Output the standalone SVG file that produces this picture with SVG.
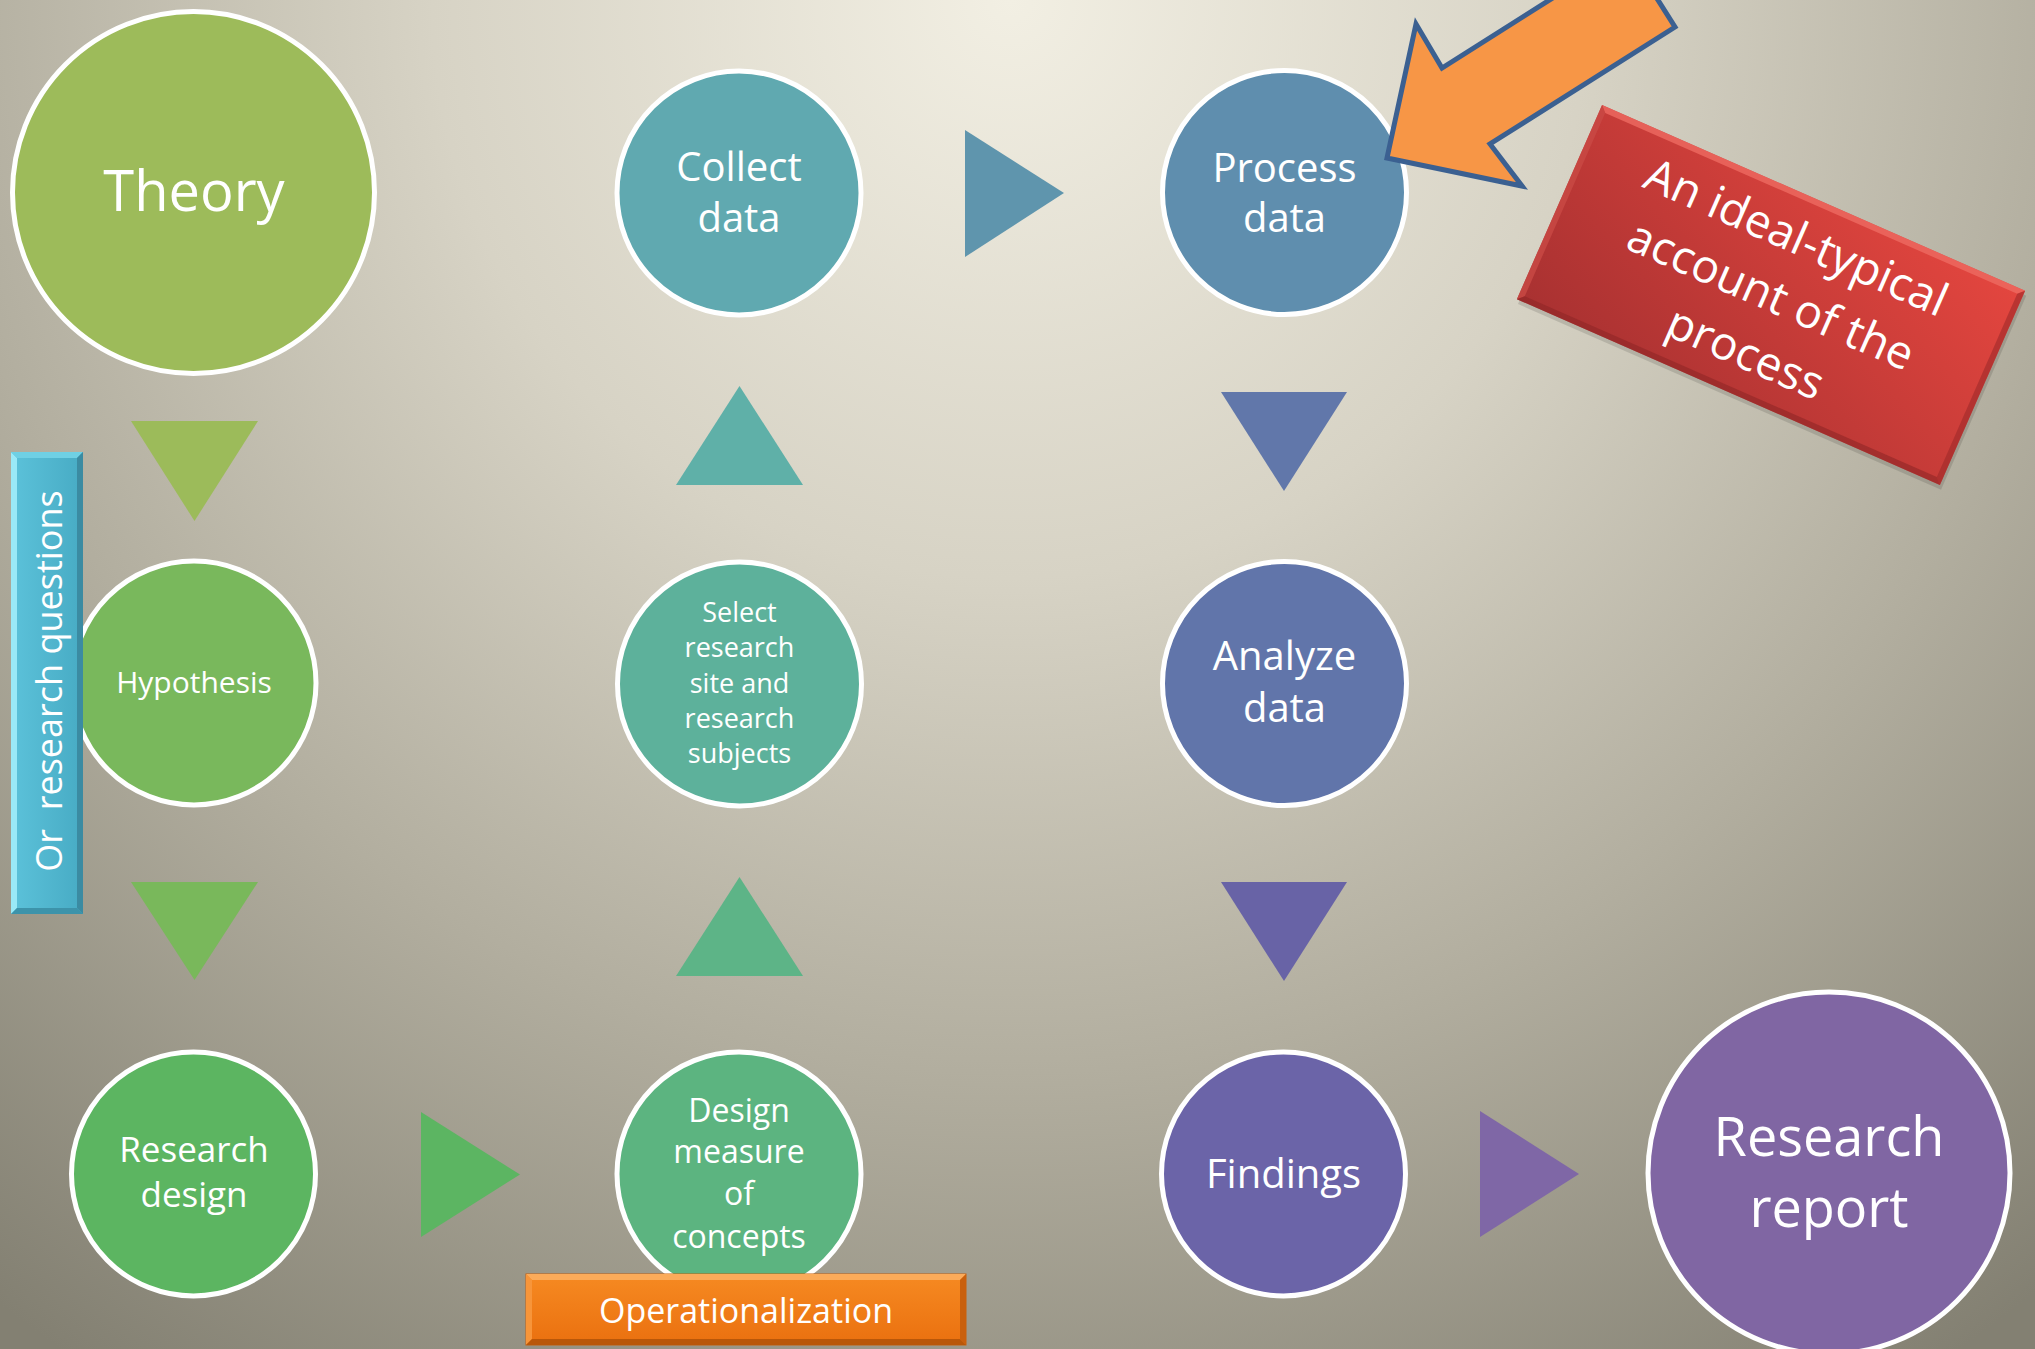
<svg xmlns="http://www.w3.org/2000/svg" width="2035" height="1349" viewBox="0 0 2035 1349">
<defs>
  <radialGradient id="bg" gradientUnits="userSpaceOnUse" cx="1010" cy="0" r="1650">
    <stop offset="0" stop-color="#f2efe3"/>
    <stop offset="0.35" stop-color="#d7d3c5"/>
    <stop offset="0.65" stop-color="#b2ae9f"/>
    <stop offset="1" stop-color="#838072"/>
  </radialGradient>
  <linearGradient id="redg" x1="1" y1="0" x2="0" y2="1">
    <stop offset="0" stop-color="#e4463f"/>
    <stop offset="1" stop-color="#a83131"/>
  </linearGradient>
  <linearGradient id="orgg" x1="0" y1="0" x2="0" y2="1">
    <stop offset="0" stop-color="#f68a22"/>
    <stop offset="1" stop-color="#ea700f"/>
  </linearGradient>
  <linearGradient id="blug" x1="0" y1="0" x2="1" y2="0">
    <stop offset="0" stop-color="#5cc2da"/>
    <stop offset="1" stop-color="#47abc4"/>
  </linearGradient>
</defs>
<style>
  .node { stroke: #ffffff; stroke-width: 5; }
  .lbl { fill: #ffffff; font-family: "Open Sans", "Noto Sans", "DejaVu Sans", sans-serif; text-anchor: middle; }
</style>
<rect x="0" y="0" width="2035" height="1349" fill="url(#bg)"/>

<g id="connectors">
  <polygon points="131,421 258,421 194.5,521" fill="#9cbb5a"/>
  <polygon points="131,882 258,882 194.5,980" fill="#79b85b"/>
  <polygon points="421,1112 421,1237 520,1174.5" fill="#5cb562"/>
  <polygon points="676,976 803,976 739.5,877" fill="#5db487"/>
  <polygon points="676,485 803,485 739.5,386" fill="#5fb0a8"/>
  <polygon points="965,130 965,257 1064,193" fill="#5f95ad"/>
  <polygon points="1221,392 1347,392 1284,491" fill="#6177aa"/>
  <polygon points="1221,882 1347,882 1284,981" fill="#6863a6"/>
  <polygon points="1480,1111 1480,1237 1579,1174" fill="#7f67a6"/>
</g>

<g id="theory">
  <circle class="node" cx="193.5" cy="192.5" r="181" fill="#9dbb5a"/>
  <text class="lbl" x="194" y="211" font-size="56">Theory</text>
</g>
<g id="hypothesis">
  <circle class="node" cx="194" cy="683" r="122" fill="#79b85c"/>
  <text class="lbl" x="194" y="693" font-size="30">Hypothesis</text>
</g>
<g id="research-questions">
  <rect x="11" y="452" width="72" height="462" fill="url(#blug)"/>
  <polygon points="11,452 17,458 17,908 11,914" fill="#9ae9f7"/>
  <polygon points="11,452 83,452 77,458 17,458" fill="#6fd0e4"/>
  <polygon points="83,452 83,914 77,908 77,458" fill="#3b8ba2"/>
  <polygon points="11,914 83,914 77,908 17,908" fill="#3d93aa"/>
  <text class="lbl" transform="translate(62,681) rotate(-90)" font-size="36" style="white-space:pre">Or  research questions</text>
</g>
<g id="research-design">
  <circle class="node" cx="193.5" cy="1174" r="122" fill="#5cb561"/>
  <text class="lbl" font-size="35"><tspan x="194" y="1162">Research</tspan><tspan x="194" y="1207">design</tspan></text>
</g>
<g id="collect-data">
  <circle class="node" cx="739" cy="193" r="122" fill="#60a9b0"/>
  <text class="lbl" font-size="40"><tspan x="739" y="181">Collect</tspan><tspan x="739" y="232">data</tspan></text>
</g>
<g id="select-site">
  <circle class="node" cx="739.5" cy="684" r="122" fill="#5db19b"/>
  <text class="lbl" font-size="27"><tspan x="739.5" y="622">Select</tspan><tspan x="739.5" y="657">research</tspan><tspan x="739.5" y="693">site and</tspan><tspan x="739.5" y="728">research</tspan><tspan x="739.5" y="763">subjects</tspan></text>
</g>
<g id="design-measure">
  <circle class="node" cx="739" cy="1174" r="122" fill="#5cb480"/>
  <text class="lbl" font-size="32"><tspan x="739" y="1122">Design</tspan><tspan x="739" y="1163">measure</tspan><tspan x="739" y="1205">of</tspan><tspan x="739" y="1248">concepts</tspan></text>
</g>
<g id="operationalization">
  <rect x="526" y="1274" width="440" height="71" fill="url(#orgg)" stroke="#c8600c" stroke-width="1"/>
  <polygon points="526,1274 966,1274 960,1280 532,1280" fill="#fbab5a"/>
  <polygon points="526,1274 532,1280 532,1339 526,1345" fill="#f7953a"/>
  <polygon points="966,1274 966,1345 960,1339 960,1280" fill="#c9600d"/>
  <polygon points="526,1345 966,1345 960,1339 532,1339" fill="#b95709"/>
  <text class="lbl" x="746" y="1323" font-size="34">Operationalization</text>
</g>
<g id="process-data">
  <circle class="node" cx="1284.5" cy="192.5" r="122" fill="#5f8eae"/>
  <text class="lbl" font-size="40"><tspan x="1284.5" y="182">Process</tspan><tspan x="1284.5" y="232">data</tspan></text>
</g>
<g id="analyze-data">
  <circle class="node" cx="1284.5" cy="683.5" r="122" fill="#6175aa"/>
  <text class="lbl" font-size="40"><tspan x="1284.5" y="670">Analyze</tspan><tspan x="1284.5" y="722">data</tspan></text>
</g>
<g id="findings">
  <circle class="node" cx="1283.5" cy="1174" r="122" fill="#6b64a8"/>
  <text class="lbl" x="1283.5" y="1188" font-size="40">Findings</text>
</g>
<g id="research-report">
  <circle class="node" cx="1829" cy="1173" r="181" fill="#8066a3"/>
  <text class="lbl" font-size="54"><tspan x="1829" y="1156">Research</tspan><tspan x="1829" y="1227">report</tspan></text>
</g>
<g id="pointer-arrow">
  <polygon points="1387,158 1416,24 1442,68 1627,-49 1675,27 1490,144 1522,186" fill="#f79646" stroke="#3b6091" stroke-width="5" stroke-linejoin="miter"/>
</g>
<g id="ideal-typical-note" transform="translate(1771,295) rotate(23.7)">
  <rect x="-231" y="-106" width="462" height="212" fill="#000000" opacity="0.12" transform="translate(3,4)"/>
  <rect x="-231" y="-106" width="462" height="212" fill="url(#redg)"/>
  <polygon points="-231,-106 231,-106 225,-100 -225,-100" fill="#ee6a62" opacity="0.8"/>
  <polygon points="-231,-106 -225,-100 -225,100 -231,106" fill="#c94a45" opacity="0.8"/>
  <polygon points="231,-106 231,106 225,100 225,-100" fill="#9e2a2a" opacity="0.6"/>
  <polygon points="-231,106 231,106 225,100 -225,100" fill="#8f2626" opacity="0.6"/>
  <text class="lbl" font-size="46"><tspan x="0" y="-47">An ideal-typical</tspan><tspan x="0" y="16">account of the</tspan><tspan x="0" y="79">process</tspan></text>
</g>
</svg>
